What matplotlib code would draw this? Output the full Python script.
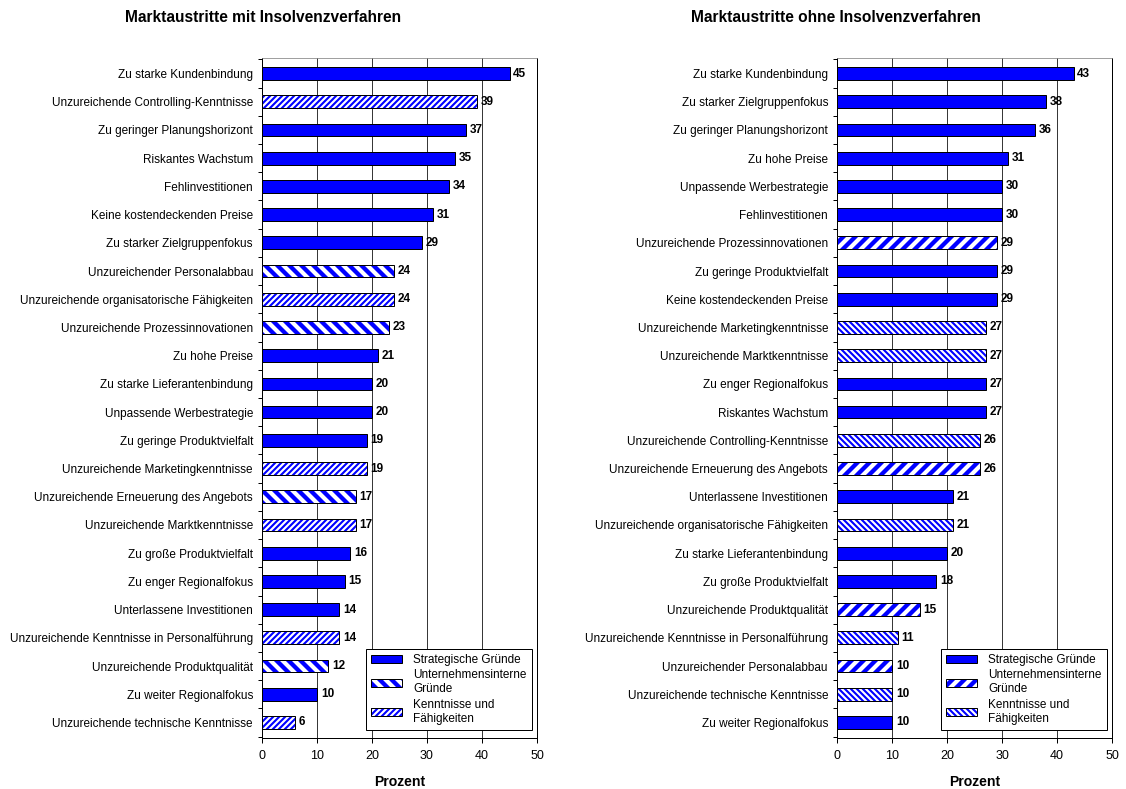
import numpy as np
import matplotlib
matplotlib.use('Agg')
import matplotlib.pyplot as plt
from matplotlib.patches import Patch, Rectangle

plt.rcParams['font.family'] = ['Liberation Sans', 'DejaVu Sans']

# === Data ===
left_title = 'Marktaustritte mit Insolvenzverfahren'
left_labels = [
    'Zu starke Kundenbindung', 'Unzureichende Controlling-Kenntnisse',
    'Zu geringer Planungshorizont', 'Riskantes Wachstum', 'Fehlinvestitionen',
    'Keine kostendeckenden Preise', 'Zu starker Zielgruppenfokus',
    'Unzureichender Personalabbau', 'Unzureichende organisatorische Fähigkeiten',
    'Unzureichende Prozessinnovationen', 'Zu hohe Preise',
    'Zu starke Lieferantenbindung', 'Unpassende Werbestrategie',
    'Zu geringe Produktvielfalt', 'Unzureichende Marketingkenntnisse',
    'Unzureichende Erneuerung des Angebots', 'Unzureichende Marktkenntnisse',
    'Zu große Produktvielfalt', 'Zu enger Regionalfokus',
    'Unterlassene Investitionen', 'Unzureichende Kenntnisse in Personalführung',
    'Unzureichende Produktqualität', 'Zu weiter Regionalfokus',
    'Unzureichende technische Kenntnisse',
]
left_values = [45, 39, 37, 35, 34, 31, 29, 24, 24, 23, 21, 20, 20, 19, 19,
               17, 17, 16, 15, 14, 14, 12, 10, 6]
left_groups = ['S', 'K', 'S', 'S', 'S', 'S', 'S', 'U', 'K', 'U', 'S', 'S', 'S',
               'S', 'K', 'U', 'K', 'S', 'S', 'S', 'K', 'U', 'S', 'K']

right_title = 'Marktaustritte ohne Insolvenzverfahren'
right_labels = [
    'Zu starke Kundenbindung', 'Zu starker Zielgruppenfokus',
    'Zu geringer Planungshorizont', 'Zu hohe Preise', 'Unpassende Werbestrategie',
    'Fehlinvestitionen', 'Unzureichende Prozessinnovationen',
    'Zu geringe Produktvielfalt', 'Keine kostendeckenden Preise',
    'Unzureichende Marketingkenntnisse', 'Unzureichende Marktkenntnisse',
    'Zu enger Regionalfokus', 'Riskantes Wachstum',
    'Unzureichende Controlling-Kenntnisse', 'Unzureichende Erneuerung des Angebots',
    'Unterlassene Investitionen', 'Unzureichende organisatorische Fähigkeiten',
    'Zu starke Lieferantenbindung', 'Zu große Produktvielfalt',
    'Unzureichende Produktqualität', 'Unzureichende Kenntnisse in Personalführung',
    'Unzureichender Personalabbau', 'Unzureichende technische Kenntnisse',
    'Zu weiter Regionalfokus',
]
right_values = [43, 38, 36, 31, 30, 30, 29, 29, 29, 27, 27, 27, 27, 26, 26,
                21, 21, 20, 18, 15, 11, 10, 10, 10]
right_groups = ['S', 'S', 'S', 'S', 'S', 'S', 'U', 'S', 'S', 'K', 'K', 'S', 'S',
                'K', 'U', 'S', 'K', 'S', 'S', 'U', 'K', 'U', 'K', 'S']

group_order = ['S', 'U', 'K']
group_names = {'S': 'Strategische Gründe',
               'U': 'Unternehmensinterne\nGründe',
               'K': 'Kenntnisse und\nFähigkeiten'}

BLUE = '#0000FF'
# hatch (pattern, line width) per group, per panel
left_hatch = {'S': (None, 0), 'U': ('\\\\', 4.3), 'K': ('////', 2.1)}
right_hatch = {'S': (None, 0), 'U': ('//', 4.3), 'K': ('\\\\\\\\', 2.1)}

FS = 11.8
BAR_H = 0.45


def set_hatch_lw(artist, lw):
    """Give this artist its own hatch line width."""
    if hasattr(artist, 'set_hatch_linewidth'):
        artist.set_hatch_linewidth(lw)
    artist._hatch_linewidth = lw
    orig = artist.draw

    def draw(renderer):
        with plt.rc_context({'hatch.linewidth': lw}):
            orig(renderer)
    artist.draw = draw


def draw_panel(ax, labels, values, groups, hatches):
    n = len(labels)
    y = np.arange(n)
    for g in group_order:
        idx = [i for i in range(n) if groups[i] == g]
        vals = [values[i] for i in idx]
        hatch, lw = hatches[g]
        if hatch is None:
            ax.barh(y[idx], vals, BAR_H, color=BLUE,
                    edgecolor='black', linewidth=1.0, zorder=3)
        else:
            with plt.rc_context({'hatch.linewidth': lw}):
                bars = ax.barh(y[idx], vals, BAR_H, facecolor='white',
                               edgecolor=BLUE, hatch=hatch, linewidth=0, zorder=3)
            for p in bars.patches:
                set_hatch_lw(p, lw)
            ax.barh(y[idx], vals, BAR_H, fill=False,
                    edgecolor='black', linewidth=1.0, zorder=4)

    for i, v in enumerate(values):
        ax.text(v + 0.7, i, f'{v}', va='center', ha='left', fontsize=FS,
                fontweight='bold', zorder=5)

    ax.set_xlim(0, 50)
    ax.set_ylim(n - 0.45, -0.55)
    ax.set_xticks(np.arange(0, 51, 10))
    ax.set_yticks(y)
    ax.set_yticklabels(labels, fontsize=FS)
    ax.set_yticks(np.arange(-0.5, n, 1.0), minor=True)
    ax.tick_params(axis='y', which='major', length=0, pad=9)
    ax.tick_params(axis='y', which='minor', length=4, direction='out', width=1)
    ax.tick_params(axis='x', length=5, width=1, labelsize=12.5, pad=7)
    ax.xaxis.grid(True, color='#222222', linewidth=0.9, zorder=0)
    ax.set_axisbelow(True)
    ax.set_xlabel('Prozent', fontsize=14, fontweight='bold', labelpad=13)
    for side in ['left', 'bottom', 'right']:
        ax.spines[side].set_color('black')
        ax.spines[side].set_linewidth(1.0)
    ax.spines['top'].set_color('#888888')
    ax.spines['top'].set_linewidth(0.8)

    handles = []
    for g in group_order:
        hatch, lw = hatches[g]
        if hatch is None:
            handles.append(Patch(facecolor=BLUE, edgecolor='black', linewidth=1.0))
        else:
            hp = Patch(facecolor='white', edgecolor=BLUE, hatch=hatch, linewidth=0)
            handles.append((hp, Patch(fill=False, edgecolor='black', linewidth=1.0)))
    leg = ax.legend(handles, [group_names[g] for g in group_order],
                    loc='lower right', bbox_to_anchor=(0.982, 0.012),
                    borderaxespad=0,
                    fontsize=FS, frameon=True, fancybox=False, framealpha=1,
                    edgecolor='black', handlelength=2.6, handleheight=0.68,
                    borderpad=0.45, labelspacing=0.3, handletextpad=1.0)
    leg.get_frame().set_linewidth(1.0)
    leg.set_zorder(6)

    # legend copies of the hatched patches need their own hatch width too
    lw_by_hatch = {h: lw for h, lw in hatches.values() if h}
    for p in leg.findobj(Rectangle):
        h = p.get_hatch()
        if h in lw_by_hatch:
            set_hatch_lw(p, lw_by_hatch[h])


fig = plt.figure(figsize=(1126 / 72, 789 / 72), dpi=72)
ax_l = fig.add_axes([262 / 1126, 1 - 738 / 789, 275 / 1126, 680 / 789])
ax_r = fig.add_axes([837 / 1126, 1 - 738 / 789, 275 / 1126, 680 / 789])

draw_panel(ax_l, left_labels, left_values, left_groups, left_hatch)
draw_panel(ax_r, right_labels, right_values, right_groups, right_hatch)

fig.text(263 / 1126, 1 - 17 / 789, left_title, ha='center', va='center',
         fontsize=15.5, fontweight='bold')
fig.text(836 / 1126, 1 - 17 / 789, right_title, ha='center', va='center',
         fontsize=15.5, fontweight='bold')

fig.savefig('out.png', dpi=72, facecolor='white')
